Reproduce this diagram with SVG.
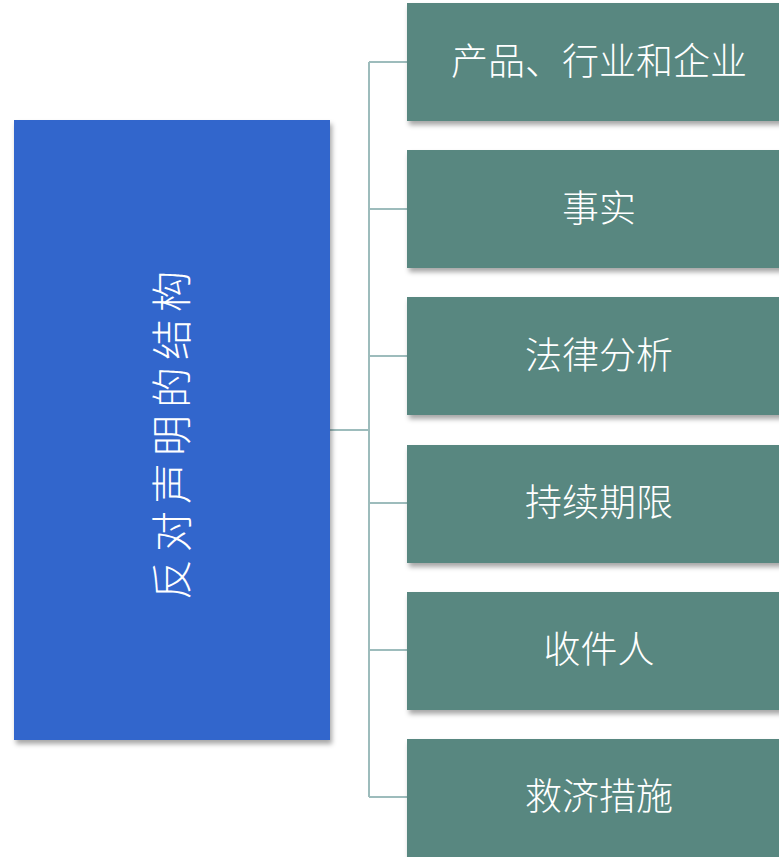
<svg xmlns="http://www.w3.org/2000/svg" width="779" height="857" viewBox="0 0 779 857">
<defs>
<filter id="sh" x="-10%" y="-10%" width="130%" height="130%">
<feDropShadow dx="2" dy="4" stdDeviation="2.5" flood-color="#000" flood-opacity="0.35"/>
</filter>
</defs>
<style>
.b{fill:#588780;filter:url(#sh)}
.t{font-family:"Noto Sans CJK SC",sans-serif;font-size:37px;font-weight:300;fill:#fff;text-anchor:middle;dominant-baseline:central}
.c{fill:none;stroke:#9dbcbc;stroke-width:2}
</style>
<rect width="779" height="857" fill="#fff"/>
<g id="connectors">
<path class="c" d="M330 430H369M369 62V797M369 62H407M369 209H407M369 356H407M369 503H407M369 650H407M369 797H407"/>
</g>
<g id="root">
<rect x="14" y="120" width="316" height="620" fill="#3066cc" filter="url(#sh)"/>
<text class="t" transform="translate(169 432) rotate(-90)" style="font-size:41px;letter-spacing:7px">反对声明的结构</text>
</g>
<g id="n1"><rect class="b" x="407" y="3" width="384" height="118"/><text class="t" x="599" y="59">产品、行业和企业</text></g>
<g id="n2"><rect class="b" x="407" y="150" width="384" height="118"/><text class="t" x="599" y="206">事实</text></g>
<g id="n3"><rect class="b" x="407" y="297" width="384" height="118"/><text class="t" x="599" y="353">法律分析</text></g>
<g id="n4"><rect class="b" x="407" y="445" width="384" height="118"/><text class="t" x="599" y="500">持续期限</text></g>
<g id="n5"><rect class="b" x="407" y="592" width="384" height="118"/><text class="t" x="599" y="647">收件人</text></g>
<g id="n6"><rect class="b" x="407" y="739" width="384" height="118"/><text class="t" x="599" y="794">救济措施</text></g>
</svg>
